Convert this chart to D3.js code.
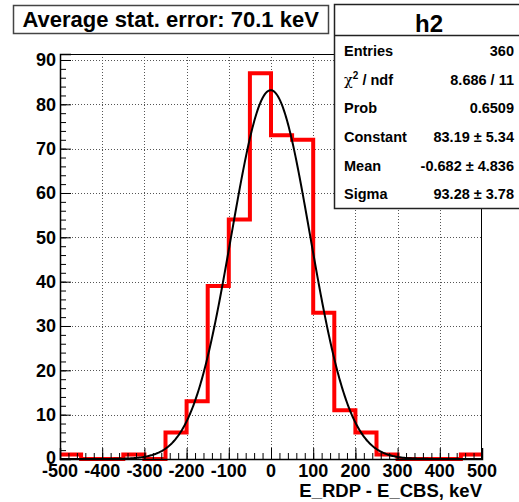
<!DOCTYPE html>
<html><head><meta charset="utf-8">
<script src="https://cdn.jsdelivr.net/npm/d3@7"></script>
<style>
html,body{margin:0;padding:0;background:#fff;}
text{font-family:"Liberation Sans",Arial,Helvetica,sans-serif;font-weight:bold;}
</style></head>
<body><svg id="c" width="519" height="502"></svg>
<script>
// Data
const binEdges = [-500,-450,-400,-350,-300,-250,-200,-150,-100,-50,0,50,100,150,200,250,300,350,400,450,500];
const binCounts = [1,0,0,1,0,6,13,39,54,87,73,72,33,11,6,1,0,0,0,1];
const xTicks = [-500,-400,-300,-200,-100,0,100,200,300,400,500];
const yTicks = [0,10,20,30,40,50,60,70,80,90];
const fitParams = {constant:83.19, mean:-0.682, sigma:93.28};
const statLabels = ["Entries","χ² / ndf","Prob","Constant","Mean","Sigma"];
const statValues = ["360","8.686 / 11","0.6509","83.19 ± 5.34","-0.682 ± 4.836","93.28 ± 3.78"];
const titleText = "Average stat. error: 70.1 keV";
const xTitle = "E_RDP - E_CBS, keV";
const histName = "h2";

const svg = d3.select("#c");
const L=60, R=482, T=54, B=459;
const x = d3.scaleLinear().domain([-500,500]).range([L,R]);
const y = d3.scaleLinear().domain([0,91.35]).range([B,T]);

// grid
const grid = svg.append("g").attr("stroke","#555").attr("stroke-width",1).attr("stroke-dasharray","1,2");
xTicks.slice(1,-1).forEach(v=>grid.append("line").attr("x1",Math.round(x(v))+0.5).attr("x2",Math.round(x(v))+0.5).attr("y1",T).attr("y2",B));
yTicks.slice(1).forEach(v=>grid.append("line").attr("x1",L).attr("x2",R).attr("y1",Math.round(y(v))+0.5).attr("y2",Math.round(y(v))+0.5));

// histogram
const pts = binCounts.map((c,i)=>[binEdges[i],c]);
pts.push([500,binCounts[binCounts.length-1]]);
const line = d3.line().x(d=>x(d[0])).y(d=>y(d[1])).curve(d3.curveStepAfter);
svg.append("path").attr("d",line(pts)).attr("fill","none").attr("stroke","#ff0000").attr("stroke-width",4);

// fit curve
const fx = d3.range(-500,500.1,2);
const g = v=>fitParams.constant*Math.exp(-0.5*Math.pow((v-fitParams.mean)/fitParams.sigma,2));
svg.append("path").attr("d",d3.line().x(d=>x(d)).y(d=>y(g(d)))(fx)).attr("fill","none").attr("stroke","#000").attr("stroke-width",2);

// frame
svg.append("rect").attr("x",L+0.5).attr("y",T+0.5).attr("width",R-L-1).attr("height",B-T).attr("fill","none").attr("stroke","#000").attr("stroke-width",1);

// x axis
const xa = svg.append("g").attr("transform",`translate(0,${B})`)
  .call(d3.axisBottom(x).tickValues(d3.range(-500,501,20)).tickSize(-6).tickFormat(""));
xa.select(".domain").remove();
xa.selectAll("line").attr("stroke","#000");
const xa2 = svg.append("g").attr("transform",`translate(0,${B})`)
  .call(d3.axisBottom(x).tickValues(xTicks).tickSize(-11).tickFormat(""));
xa2.select(".domain").attr("stroke","#000").attr("stroke-width",1.5);
xa2.selectAll("line").attr("stroke","#000");
svg.append("g").selectAll("text").data(xTicks).join("text")
  .attr("x",d=>x(d)).attr("y",477).attr("text-anchor","middle").attr("font-size",18).text(d=>d);

// y axis
const ya = svg.append("g").attr("transform",`translate(${L},0)`)
  .call(d3.axisLeft(y).tickValues(d3.range(0,91,2)).tickSize(-6).tickFormat(""));
ya.select(".domain").remove();
ya.selectAll("line").attr("stroke","#000");
const ya2 = svg.append("g").attr("transform",`translate(${L},0)`)
  .call(d3.axisLeft(y).tickValues(yTicks).tickSize(-11).tickFormat(""));
ya2.select(".domain").attr("stroke","#000").attr("stroke-width",1.5);
ya2.selectAll("line").attr("stroke","#000");
svg.append("g").selectAll("text").data(yTicks).join("text")
  .attr("x",56).attr("y",d=>y(d)+(d===0?4.5:6.5)).attr("text-anchor","end").attr("font-size",18).text(d=>d);

// x title
svg.append("text").attr("x",482).attr("y",497).attr("text-anchor","end").attr("font-size",18.5).text(xTitle);

// title box
svg.append("rect").attr("x",13.5).attr("y",5.5).attr("width",315).attr("height",28).attr("fill","#fff").attr("stroke","#444").attr("stroke-width",1.5);
svg.append("text").attr("x",22.5).attr("y",26.7).attr("font-size",22).text(titleText);

// stats box
svg.append("rect").attr("x",334.5).attr("y",4.5).attr("width",190).attr("height",204).attr("fill","#fff").attr("stroke","#222").attr("stroke-width",1.5);
svg.append("line").attr("x1",334.5).attr("x2",519).attr("y1",35.5).attr("y2",35.5).attr("stroke","#222").attr("stroke-width",1.5);
svg.append("text").attr("x",429).attr("y",32).attr("text-anchor","middle").attr("font-size",24).text(histName);
const rowY = [56,84.5,113,142,171,199];
statLabels.forEach((s,i)=>{
  const t = svg.append("text").attr("x",344).attr("y",rowY[i]).attr("font-size",14.5);
  if(s.startsWith("χ")){
    t.append("tspan").attr("font-weight","normal").attr("font-family","DejaVu Serif, serif").text("χ");
    t.append("tspan").attr("font-size",10).attr("dy",-6).text("2");
    t.append("tspan").attr("dy",6).text(" / ndf");
  } else t.text(s);
  svg.append("text").attr("x",514).attr("y",rowY[i]).attr("text-anchor","end").attr("font-size",14.5).text(statValues[i]);
});
</script></body></html>
